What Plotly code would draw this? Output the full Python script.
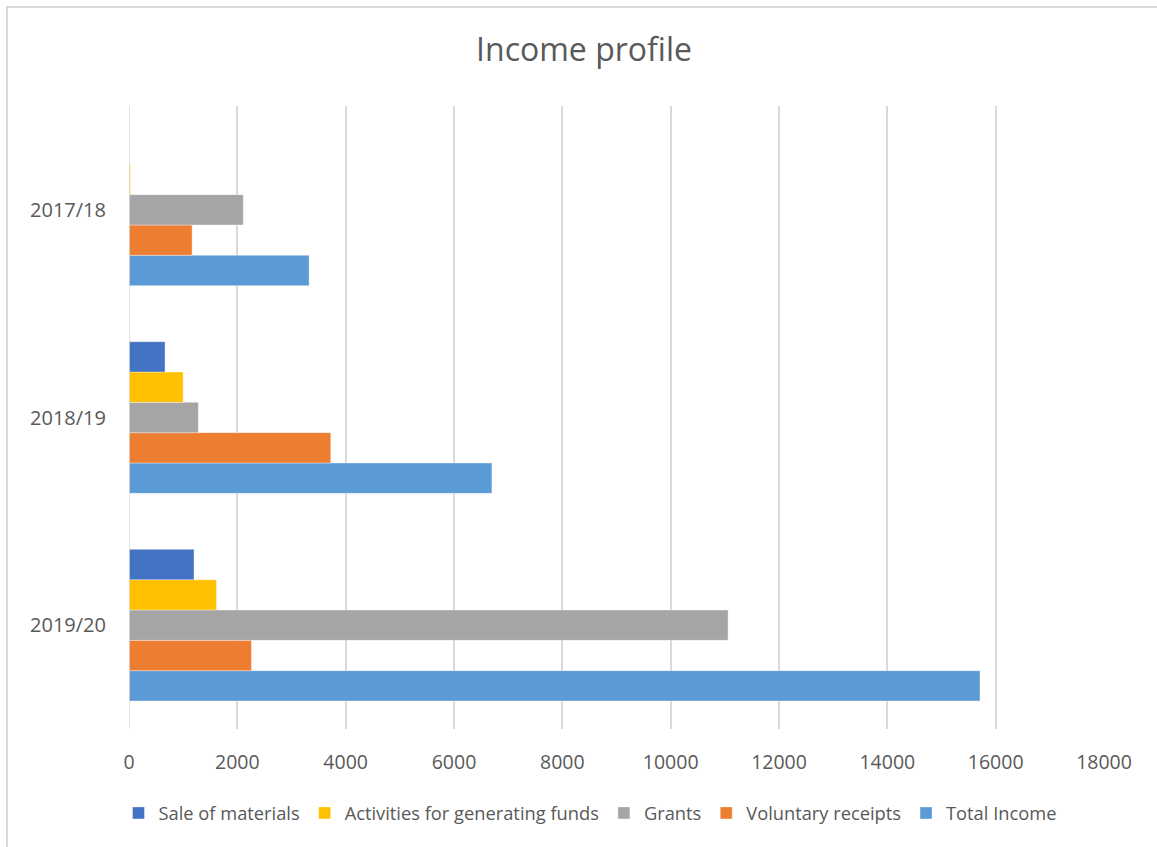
import plotly.graph_objects as go

categories = ["2019/20", "2018/19", "2017/18"]
total_income = [15710, 6700, 3325]
voluntary_receipts = [2260, 3725, 1165]
grants = [11060, 1280, 2110]
activities_funds = [1615, 1000, 25]
sale_materials = [1200, 665, 0]
x_ticks = [0, 2000, 4000, 6000, 8000, 10000, 12000, 14000, 16000, 18000]

series = [
    ("Total Income", total_income, "#5B9BD5"),
    ("Voluntary receipts", voluntary_receipts, "#ED7D31"),
    ("Grants", grants, "#A5A5A5"),
    ("Activities for generating funds", activities_funds, "#FFC000"),
    ("Sale of materials", sale_materials, "#4472C4"),
]

FONT = "Open Sans"
TXT = "#595959"

fig = go.Figure()
for name, vals, color in series:
    fig.add_trace(go.Bar(
        y=categories, x=vals, name=name, orientation="h",
        marker=dict(color=color, line=dict(width=0.6, color="rgba(255,255,255,0.6)")),
    ))

fig.update_layout(
    width=1157, height=847,
    margin=dict(l=129, r=53, t=106, b=118, autoexpand=False),
    paper_bgcolor="white", plot_bgcolor="white",
    barmode="group", bargap=0.27, bargroupgap=0,
    font=dict(family=FONT, color=TXT, size=19),
    title=dict(text="Income profile", x=(584 / 1157), xref="container", xanchor="center",
               y=1 - 50 / 847, yref="container", yanchor="middle",
               font=dict(family=FONT, size=32, color=TXT)),
    xaxis=dict(range=[0, 18000], tickvals=x_ticks, ticktext=[str(v) for v in x_ticks],
               showgrid=True, gridcolor="#D9D9D9", gridwidth=1.5,
               zeroline=False, showline=False, tickangle=0,
               ticks="outside", ticklen=16, tickcolor="rgba(0,0,0,0)",
               tickfont=dict(family=FONT, size=19.5, color=TXT)),
    yaxis=dict(showgrid=False, zeroline=False, showline=False,
               ticks="outside", ticklen=18, tickcolor="rgba(0,0,0,0)",
               tickfont=dict(family=FONT, size=20, color=TXT)),
    legend=dict(orientation="h", traceorder="reversed",
                x=(590 - 129) / 975, xref="paper", xanchor="center",
                y=-84 / 623, yanchor="middle",
                font=dict(family=FONT, size=18.3, color=TXT),
                itemwidth=30, tracegroupgap=0),
    showlegend=True,
)

# left axis line at zero (same tone as gridlines)
fig.add_shape(type="line", xref="x", yref="paper", x0=0, x1=0, y0=0, y1=1,
              line=dict(color="#D9D9D9", width=1.5))

# chart-area border (partially outside the visible canvas)
fig.add_shape(type="rect", xref="paper", yref="paper",
              x0=(7 - 129) / 975, x1=1.2, y0=-0.3, y1=(729 - 7) / 623,
              line=dict(color="#D9D9D9", width=2), fillcolor="rgba(0,0,0,0)", layer="below")

fig.write_html("out.html")
